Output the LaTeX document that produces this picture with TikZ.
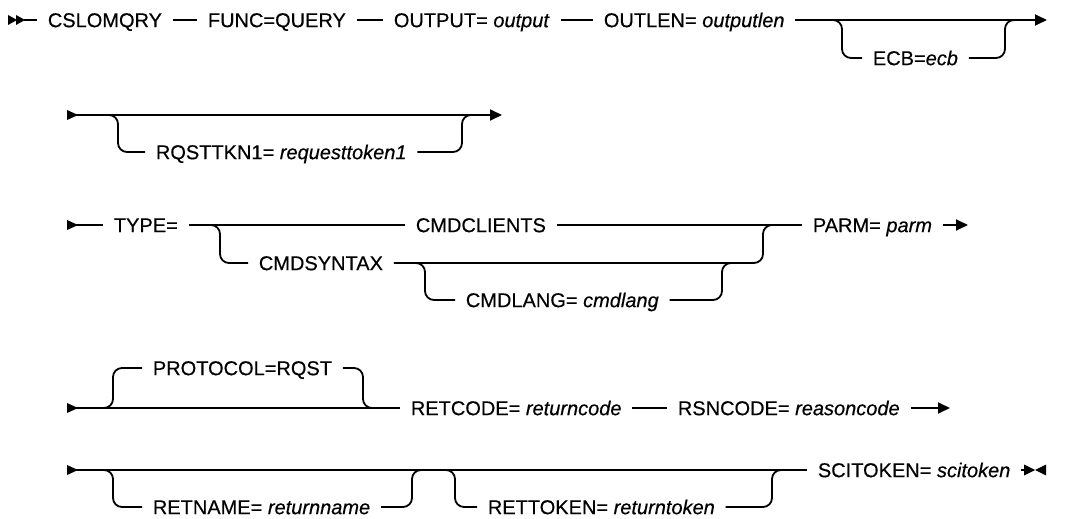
\documentclass[tikz,border=0pt]{standalone}
\usepackage{fontspec}
\setmainfont{Liberation Sans}[FakeBold=0.4]
\usetikzlibrary{arrows.meta}
\newcommand\rrfont{\fontsize{20pt}{22pt}\selectfont}
\begin{document}
\begin{tikzpicture}[x=1pt,y=-1pt, line width=1.8pt,
  kw/.style={font=\rrfont, anchor=west, inner xsep=10pt, inner ysep=0pt, text height=14.3pt, text depth=0pt},
  rr/.style={rounded corners=9pt},
  endarrow/.style={-{Triangle[length=12pt,width=11pt]}},
  marker/.style={fill=black, draw=none}
]
\useasboundingbox (0,0) rectangle (1080,519);

% ---------- Row 1 ----------
\fill[marker] (8,15) -- (17,20) -- (8,25) -- cycle;
\fill[marker] (16,15) -- (25,20) -- (16,25) -- cycle;
\coordinate (s1) at (24,20);
\node[kw] (cslo) at (37,20) {CSLOMQRY};
\node[kw] (func) at (197,20) {FUNC=QUERY};
\node[kw] (outp) at (383,20) {OUTPUT= \textit{output}};
\node[kw] (outl) at (593,20) {OUTLEN= \textit{outputlen}};
\coordinate (e1) at (1047,20);
\draw (s1) -- (cslo.west);
\draw (cslo.east) -- (func.west);
\draw (func.east) -- (outp.west);
\draw (outp.east) -- (outl.west);
\draw[endarrow] (outl.east) -- (e1);
\node[kw] (ecb) at (862,58) {ECB=\textit{ecb}};
\coordinate (j1) at (833,20);
\coordinate (j2) at (1005,20);
\draw[rr] (j1) -- ++(9,0) |- (ecb.west);
\draw[rr] (ecb.east) -| (j2) -- ++(9,0);

% ---------- Row 2 ----------
\fill[marker] (67,110) -- (78,115) -- (67,120) -- cycle;
\coordinate (s2) at (67,115);
\coordinate (e2) at (502,115);
\draw[endarrow] (s2) -- (e2);
\node[kw] (rqst) at (145,152) {RQSTTKN1= \textit{requesttoken1}};
\coordinate (j3) at (109,115);
\coordinate (j4) at (462,115);
\draw[rr] (j3) -- ++(9,0) |- (rqst.west);
\draw[rr] (rqst.east) -| (j4) -- ++(9,0);

% ---------- Row 3 ----------
\fill[marker] (67,220) -- (78,225) -- (67,230) -- cycle;
\coordinate (s3) at (67,225);
\node[kw] (type) at (103,225) {TYPE=};
\node[kw] (cmdc) at (405,225) {CMDCLIENTS};
\node[kw] (parm) at (802,225) {PARM= \textit{parm}};
\coordinate (e3) at (968,225);
\draw (s3) -- (type.west);
\draw (type.east) -- (cmdc.west);
\draw (cmdc.east) -- (parm.west);
\draw[endarrow] (parm.east) -- (e3);
\node[kw] (cmds) at (248,263) {CMDSYNTAX};
\coordinate (j5) at (211,225);
\coordinate (j6) at (763,225);
\draw[rr] (j5) -- ++(9,0) |- (cmds.west);
\draw[rr] (cmds.east) -| (j6) -- ++(9,0);
\node[kw] (cmdl) at (455,300) {CMDLANG= \textit{cmdlang}};
\coordinate (j7) at (416,263);
\coordinate (j8) at (722,263);
\draw[rr] (j7) -- ++(9,0) |- (cmdl.west);
\draw[rr] (cmdl.east) -| (j8) -- ++(9,0);

% ---------- Row 4 ----------
\fill[marker] (67,403) -- (78,408) -- (67,413) -- cycle;
\coordinate (s4) at (67,408);
\node[kw] (retc) at (400,408) {RETCODE= \textit{returncode}};
\node[kw] (rsnc) at (667,408) {RSNCODE= \textit{reasoncode}};
\coordinate (e4) at (950,408);
\draw (s4) -- (retc.west);
\draw (retc.east) -- (rsnc.west);
\draw[endarrow] (rsnc.east) -- (e4);
\node[kw] (prot) at (142,368) {PROTOCOL=RQST};
\coordinate (j9) at (104,408);
\coordinate (j10) at (363,408);
\draw[rr] (j9) -- ++(9,0) |- (prot.west);
\draw[rr] (prot.east) -| (j10) -- ++(9,0);

% ---------- Row 5 ----------
\fill[marker] (67,465) -- (78,470) -- (67,475) -- cycle;
\coordinate (s5) at (67,470);
\node[kw] (scit) at (807,470) {SCITOKEN= \textit{scitoken}};
\coordinate (e5) at (1028,470);
\draw (s5) -- (scit.west);
\draw (scit.east) -- (e5);
\fill[marker] (1024,464.5) -- (1035,470) -- (1024,475.5) -- cycle;
\fill[marker] (1046,464.5) -- (1035,470) -- (1046,475.5) -- cycle;
\node[kw] (retn) at (142,507) {RETNAME= \textit{returnname}};
\coordinate (j11) at (104,470);
\coordinate (j12) at (412,470);
\draw[rr] (j11) -- ++(9,0) |- (retn.west);
\draw[rr] (retn.east) -| (j12) -- ++(9,0);
\node[kw] (rett) at (477,507) {RETTOKEN= \textit{returntoken}};
\coordinate (j13) at (446,470);
\coordinate (j14) at (772,470);
\draw[rr] (j13) -- ++(9,0) |- (rett.west);
\draw[rr] (rett.east) -| (j14) -- ++(9,0);
\end{tikzpicture}
\end{document}
